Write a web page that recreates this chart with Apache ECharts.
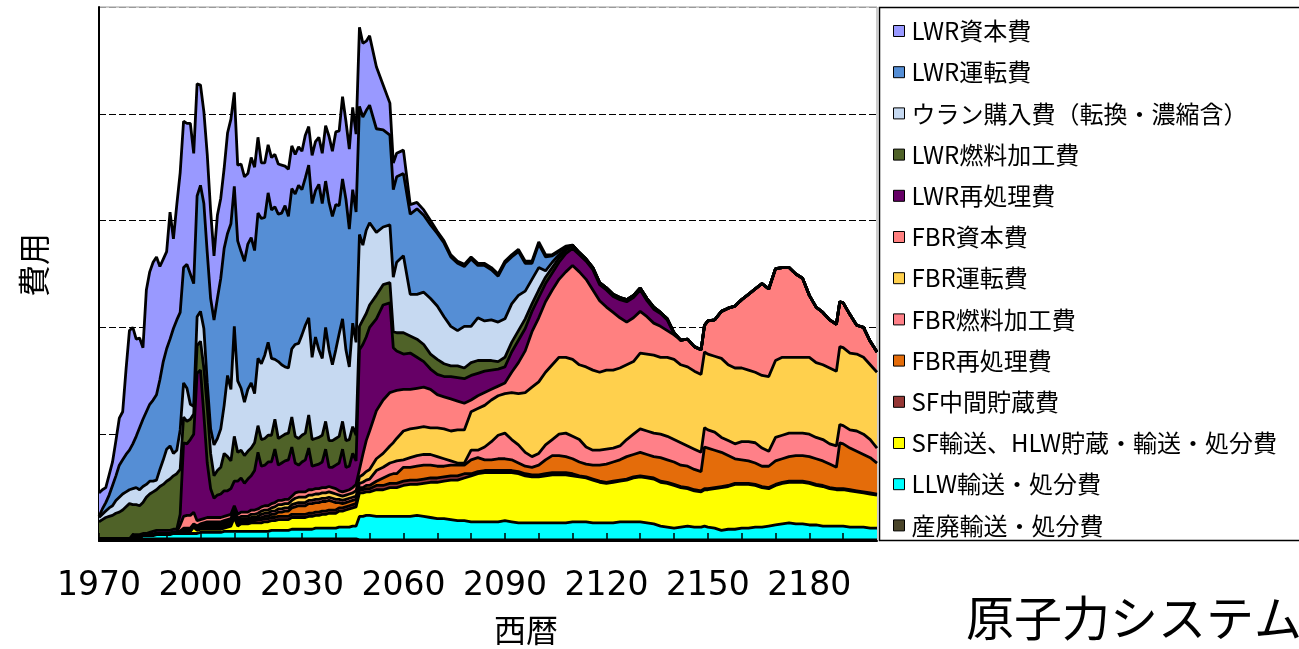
<!DOCTYPE html>
<html>
<head>
<meta charset="utf-8">
<title>原子力システム 費用</title>
<script src="https://cdn.jsdelivr.net/npm/echarts@6/dist/echarts.min.js"></script>
<style>
  html, body { margin: 0; padding: 0; background: #fff; }
  #chart { width: 1299px; height: 649px; }
</style>
</head>
<body>
<div id="chart"></div>
<script>
// 西暦: 2050年までは毎年、その後は2年おき（段差の年 2057, 2149, 2189 を追加）
var years = [
  1970,1971,1972,1973,1974,1975,1976,1977,1978,1979,
  1980,1981,1982,1983,1984,1985,1986,1987,1988,1989,
  1990,1991,1992,1993,1994,1995,1996,1997,1998,1999,
  2000,2001,2002,2003,2004,2005,2006,2007,2008,2009,
  2010,2011,2012,2013,2014,2015,2016,2017,2018,2019,
  2020,2021,2022,2023,2024,2025,2026,2027,2028,2029,
  2030,2031,2032,2033,2034,2035,2036,2037,2038,2039,
  2040,2041,2042,2043,2044,2045,2046,2047,2048,2049,2050,
  2052,2054,2056,2057,2058,2060,2062,2064,2066,2068,
  2070,2072,2074,2076,2078,2080,2082,2084,2086,2088,
  2090,2092,2094,2096,2098,2100,2102,2104,2106,2108,
  2110,2112,2114,2116,2118,2120,2122,2124,2126,2128,
  2130,2132,2134,2136,2138,2140,2142,2144,2146,2148,
  2149,2150,2152,2154,2156,2158,2160,2162,2164,2166,
  2168,2170,2172,2174,2176,2178,2180,2182,2184,2186,
  2188,2189,2190,2192,2194,2196,2198,2200
];

// 各費目の値（積み上げ前）。目盛線1本 = 100
var sanpai = [
  2,2,2,2,2,2,2,2,2,2, 2,2,2,2,2,2,2,2,2,2, 2,2,2,2,2,2,2,2,2,2, 2,2,2,2,2,2,2,2,2,2,
  2,2,2,2,2,2,2,2,2,2, 2,2,2,2,2,2,2,2,2,2, 2,2,2,2,2,2,2,2,2,2, 2,2,2,2,2,2,2,1,1,1,1,
  1,1,1,1,1,1,1,1,1,1, 1,1,1,1,1,1,1,1,1,1, 1,1,1,1,1,1,1,1,1,1, 1,1,1,1,1,1,1,1,1,1,
  1,1,1,1,1,1,1,1,1,1, 1,1,1,1,1,1,1,1,1,1, 1,1,1,1,1,1,1,1,1,1, 1,1,1,1,1,1,1,1
];
var llw = [
  0,0,0,0,0,0,0,0,0,0, 2,2,2,3,3,3,3,4,4,4, 4,4,5,5,5,5,5,5,5,5, 6,6,6,6,6,6,6,7,7,7,
  7,7,7,7,7,7,7,7,7,7, 7,8,8,8,8,8,8,9,9,9, 9,9,9,9,10,10,10,10,10,10, 10,11,11,11,11,12,12,22,22,23,23,
  22,22,22,22,22,22,22,23,22,21, 20,20,19,18,18,17,17,17,17,17, 18,17,16,16,16,16,16,16,16,16,
  17,17,17,16,16,16,16,17,17,17, 17,16,15,13,12,11,12,13,12,12, 13,12,11,9,10,10,11,11,12,12,
  13,14,15,16,15,15,14,14,13,13, 13,13,13,12,12,12,11,11
];
var sfTransport = [
  0,0,0,0,0,0,0,0,0,0, 0,0,0,0,0,1,1,1,1,1, 1,1,1,1,2,2,2,2,6,3, 3,3,3,3,3,3,3,3,4,5,
  13,5,7,7,7,8,8,8,8,9, 9,9,9,10,10,10,10,11,11,11, 11,11,12,12,12,12,13,13,14,14, 14,15,15,16,17,17,18,22,22,22,22,
  25,25,27,27,27,29,30,29,31,33, 34,35,37,38,40,43,45,46,46,46, 45,46,46,44,43,43,44,45,45,45,
  43,42,41,40,38,37,38,38,39,41, 42,42,42,41,41,40,37,35,34,33, 34,35,37,40,40,42,41,41,39,37,
  35,37,38,38,39,39,39,37,37,35, 34,34,34,34,33,32,32,31
];
var sfStorage = [
  0,0,0,0,0,0,0,0,0,0, 0,0,0,0,0,0,0,0,0,0, 0,0,0,0,0,1,1,1,1,1, 2,2,2,2,2,2,2,2,2,2,
  2,2,2,2,2,2,2,3,3,3, 3,3,3,3,3,3,3,3,3,3, 3,3,3,3,3,3,3,3,3,3, 3,3,3,3,3,3,3,3,3,3,3,
  4,4,4,4,4,4,4,4,4,4, 4,4,4,4,4,2,2,2,2,2, 2,2,2,2,2,2,2,2,2,2,
  2,1,1,1,1,1,1,1,1,1, 1,1,1,1,1,1,1,1,1,1, 1,1,1,1,1,1,1,1,1,1,
  1,1,1,1,1,1,1,1,1,1, 1,1,1,1,1,1,1,1
];
var fbrReprocess = [
  0,0,0,0,0,0,0,0,0,0, 0,0,0,0,0,0,0,0,0,0, 0,0,0,0,0,0,0,0,0,1, 1,1,1,1,1,1,1,1,1,1,
  1,1,1,1,1,1,1,1,2,2, 2,3,3,4,4,5,5,6,7,8, 8,8,9,9,9,9,9,9,9,8, 7,5,4,4,4,4,4,2,2,3,3,
  4,7,8,9,9,13,12,13,13,12, 11,10,10,10,8,13,13,10,10,11, 11,10,8,7,7,9,13,16,16,15,
  14,13,12,13,15,17,18,19,21,21, 22,21,20,22,21,21,20,20,19,18, 39,38,35,32,28,23,22,21,20,19,
  20,22,22,23,24,24,24,24,23,22, 20,43,42,39,37,35,33,29
];
var fbrFuel = [
  0,0,0,0,0,0,0,0,0,0, 0,0,0,0,0,0,0,0,0,0, 0,0,0,0,0,1,1,1,1,1, 1,1,2,2,2,2,2,2,2,2,
  2,2,2,2,2,2,2,2,3,3, 3,3,3,3,3,3,3,3,3,3, 3,3,3,3,3,3,3,3,3,3, 3,3,3,3,3,3,3,4,5,5,6,
  10,10,11,11,12,7,9,10,10,10, 9,7,4,2,2,9,7,12,17,22, 24,19,17,13,10,11,14,15,20,22,
  21,21,16,14,14,14,13,13,16,19, 22,22,22,22,22,21,21,19,19,18, 18,17,17,14,14,14,17,18,19,17,
  14,22,22,22,21,21,21,20,20,19, 20,17,17,17,19,19,17,14
];
var fbrOperation = [
  0,0,0,0,0,0,0,0,0,0, 0,0,0,0,0,0,0,0,0,0, 0,0,0,0,0,1,1,1,1,1, 1,2,2,2,2,2,2,2,2,2,
  2,2,2,2,2,3,3,3,3,3, 3,3,4,4,4,4,4,4,5,5, 5,5,5,5,5,5,5,5,5,5, 5,4,4,4,4,4,5,6,7,8,9,
  11,13,16,18,21,27,27,26,26,25, 27,28,28,31,31,36,39,39,39,37, 37,44,48,56,65,67,68,70,72,71,
  72,70,75,75,73,74,73,73,70,68, 71,72,73,72,74,75,73,74,73,73, 71,71,71,74,71,71,69,67,66,68,
  70,72,73,71,71,71,72,70,70,71, 70,73,73,72,72,72,70,71
];
var fbrCapital = [
  0,0,0,0,0,0,0,0,0,0, 0,0,0,0,0,0,0,0,0,0, 0,0,0,0,6,11,12,12,11,5, 4,4,4,4,4,4,4,4,4,4,
  4,4,4,4,4,4,4,4,4,4, 4,4,4,4,4,4,4,4,5,5, 5,5,5,5,5,5,5,5,5,5, 5,4,4,4,4,5,6,7,19,29,36,
  45,50,50,48,45,39,37,37,37,36, 31,30,30,27,25,11,12,12,10,9, 10,19,29,39,52,60,66,70,73,80,
  88,87,82,75,67,59,54,47,40,41, 39,35,30,29,25,23,23,26,23,23, 25,31,34,44,53,58,64,71,78,86,
  82,86,84,84,78,74,58,52,49,45, 44,42,42,36,27,28,22,19
];
var lwrReprocess = [
  0,0,0,0,0,0,0,0,0,0, 2,2,2,2,2,2,3,3,3,3, 3,3,3,3,10,69,67,71,73,138, 140,97,51,27,18,21,22,24,23,24,
  23,31,32,27,31,32,37,53,38,38, 41,39,50,33,35,36,37,46,28,25, 28,30,39,22,22,23,24,36,18,19, 22,26,40,22,22,32,22,112,103,97,97,
  86,89,84,41,37,33,34,29,24,19, 19,19,21,22,23,23,21,20,18,16, 15,19,21,21,19,19,17,16,16,17,
  16,16,17,19,15,16,15,17,19,19, 20,15,13,12,10,1,0,0,0,0, 0,0,0,0,0,0,0,0,0,0,
  0,0,0,0,0,0,0,0,0,0, 0,0,0,0,0,0,0,0
];
var lwrFuel = [
  16,18,20,21,22,24,25,27,30,33, 28,28,27,29,34,36,37,38,41,43, 46,48,50,52,42,24,21,19,19,26, 27,44,52,33,21,23,25,35,32,26,
  42,27,26,26,26,26,26,25,25,25, 25,25,28,25,25,25,25,28,25,25, 25,25,31,25,25,25,25,26,25,25, 25,25,26,25,25,25,24,22,23,22,21,
  22,19,19,15,17,20,16,17,16,14, 14,12,10,11,10,12,12,10,9,7, 9,9,9,9,7,7,6,5,4,3,
  3,2,2,2,2,2,2,2,2,2, 2,2,2,1,1,1,0,0,0,0, 0,0,0,0,0,0,0,0,0,0,
  0,0,0,0,0,0,0,0,0,0, 0,0,0,0,0,0,0,0
];
var uranium = [
  4,5,6,8,9,12,14,15,14,13, 15,16,15,15,12,12,10,9,16,23, 30,31,21,22,37,32,31,14,7,27, 28,37,23,23,29,30,36,45,76,67,
  103,67,58,50,58,61,46,63,71,78, 87,72,56,72,67,63,61,64,86,89, 94,101,91,77,95,82,72,88,85,71, 83,96,96,85,68,97,87,86,70,78,77,
  59,54,54,51,66,72,39,42,49,52, 50,44,37,33,39,34,40,37,38,37, 36,36,33,26,23,21,6,5,3,1,
  0,0,0,0,0,0,0,0,0,0, 0,0,0,0,0,0,0,0,0,0, 0,0,0,0,0,0,0,0,0,0,
  0,0,0,0,0,0,0,0,0,0, 0,0,0,0,0,0,0,0
];
var lwrOperation = [
  1,5,8,12,19,23,30,32,35,37, 42,48,58,63,68,72,76,80,84,92, 94,100,117,122,110,108,116,122,115,113, 118,117,122,122,117,131,141,147,133,155,
  131,131,128,132,136,136,134,136,136,129, 140,139,143,138,142,151,142,150,141,148, 136,138,143,144,137,155,145,137,138,139, 136,120,131,141,129,125,122,120,120,112,110,
  97,91,84,82,80,77,75,80,72,69, 68,69,65,63,56,63,49,52,47,43, 52,44,41,26,15,22,13,6,3,2,
  0,0,0,0,0,0,0,0,0,0, 0,0,0,0,0,0,0,0,0,0, 0,0,0,0,0,0,0,0,0,0,
  0,0,0,0,0,0,0,0,0,0, 0,0,0,0,0,0,0,0
];
var lwrCapital = [
  22,18,14,19,22,33,44,45,80,112, 109,91,84,67,114,124,129,129,106,96, 91,119,84,108,131,137,132,141,122,105, 94,86,92,82,60,78,75,75,94,98,
  88,71,82,79,66,75,78,71,52,51, 45,49,49,47,45,37,44,40,37,36, 36,40,36,45,46,44,47,52,62,61, 68,70,77,73,75,77,73,74,69,65,65,
  58,42,30,25,22,22,9,6,5,4, 2,2,2,2,2,2,2,2,2,2, 2,2,2,2,2,2,2,1,1,1,
  0,0,0,0,0,0,0,0,0,0, 0,0,0,0,0,0,0,0,0,0, 0,0,0,0,0,0,0,0,0,0,
  0,0,0,0,0,0,0,0,0,0, 0,0,0,0,0,0,0,0
];

// 積み上げ順（下から）
var layers = [
  { name: '産廃輸送・処分費', data: sanpai, color: '#4A452A' },
  { name: 'LLW輸送・処分費', data: llw, color: '#00FFFF' },
  { name: 'SF輸送、HLW貯蔵・輸送・処分費', data: sfTransport, color: '#FFFF00' },
  { name: 'SF中間貯蔵費', data: sfStorage, color: '#953735' },
  { name: 'FBR再処理費', data: fbrReprocess, color: '#E46C0A' },
  { name: 'FBR燃料加工費', data: fbrFuel, color: '#FF8088' },
  { name: 'FBR運転費', data: fbrOperation, color: '#FFD04D' },
  { name: 'FBR資本費', data: fbrCapital, color: '#FF8080' },
  { name: 'LWR再処理費', data: lwrReprocess, color: '#660066' },
  { name: 'LWR燃料加工費', data: lwrFuel, color: '#4F6228' },
  { name: 'ウラン購入費（転換・濃縮含）', data: uranium, color: '#C6D9F1' },
  { name: 'LWR運転費', data: lwrOperation, color: '#558ED5' },
  { name: 'LWR資本費', data: lwrCapital, color: '#9999FF' }
];

// 値を先頭の列に置く（積み上げは先頭の数値列にかかるため）
function toRows(values) {
  return values.map(function (v, i) { return [v, years[i]]; });
}

var series = [];
// 塗り（積み上げ面）
layers.forEach(function (layer) {
  series.push({
    name: layer.name,
    type: 'line',
    stack: 'cost',
    data: toRows(layer.data),
    encode: { x: 1, y: 0 },
    symbol: 'none',
    z: 2,
    lineStyle: { width: 0 },
    itemStyle: { color: layer.color },
    areaStyle: { color: layer.color, opacity: 1 },
    emphasis: { disabled: true },
    animation: false
  });
});

// 各層の上端の黒線（累計を表にして非積み上げの線で描く）
var running = years.map(function () { return 0; });
layers.forEach(function (layer) {
  running = running.map(function (s, i) { return s + layer.data[i]; });
  series.push({
    name: layer.name + '（境界）',
    type: 'line',
    data: running.map(function (s, i) { return [years[i], s]; }),
    symbol: 'none',
    z: 20,
    silent: true,
    lineStyle: { color: '#000000', width: 2.8, opacity: 1 },
    itemStyle: { color: '#000000' },
    emphasis: { disabled: true },
    animation: false
  });
});

var legendNames = layers.map(function (l) { return l.name; }).reverse();

var chart = echarts.init(document.getElementById('chart'));
chart.setOption({
  animation: false,
  textStyle: { fontFamily: '"Noto Sans CJK JP", sans-serif', color: '#000' },
  grid: {
    left: 99, right: 422, top: 7, bottom: 108,
    show: true, borderColor: '#9a9a9a', borderWidth: 1
  },
  xAxis: {
    type: 'value',
    min: 1970, max: 2200, interval: 10,
    z: 30,
    axisLine: { lineStyle: { color: '#000', width: 2 } },
    axisTick: { inside: true, length: 8, lineStyle: { color: '#000', width: 1.5 } },
    axisLabel: {
      margin: 29,
      fontSize: 33,
      fontFamily: '"DejaVu Sans", sans-serif',
      color: '#000',
      showMaxLabel: false,
      formatter: function (v) { return (v - 1970) % 30 === 0 ? String(v) : ''; }
    },
    splitLine: { show: false }
  },
  yAxis: {
    type: 'value',
    min: 0, max: 500, interval: 100,
    axisLine: { show: true, lineStyle: { color: '#000', width: 2 } },
    axisTick: { show: false },
    axisLabel: { show: false },
    splitLine: {
      lineStyle: {
        type: [7, 3],
        width: 1,
        color: ['#000', '#000', '#000', '#000', '#000', '#9a9a9a']
      }
    }
  },
  legend: {
    data: legendNames,
    orient: 'vertical',
    left: 893,
    top: 19,
    padding: 0,
    itemWidth: 11,
    itemHeight: 11,
    itemGap: 17.2,
    icon: 'rect',
    selectedMode: false,
    itemStyle: { borderColor: '#000', borderWidth: 1 },
    textStyle: { fontSize: 24, lineHeight: 24, color: '#000', padding: [0, 0, 0, 2] }
  },
  graphic: [
    {
      type: 'rect',
      shape: { x: 879.5, y: 7.5, width: 440, height: 533 },
      style: { fill: 'none', stroke: '#000', lineWidth: 1.5 },
      silent: true
    },
    {
      // 縦軸名（下から上へ読む向き）
      type: 'text',
      x: 34, y: 265,
      rotation: Math.PI / 2,
      style: {
        text: '費用', fontSize: 32, fill: '#000',
        align: 'center', verticalAlign: 'middle',
        fontFamily: '"Noto Sans CJK JP", sans-serif'
      },
      silent: true
    },
    {
      type: 'text',
      left: 494, top: 614,
      style: { text: '西暦', fontSize: 32, fill: '#000', fontFamily: '"Noto Sans CJK JP", sans-serif' },
      silent: true
    },
    {
      type: 'text',
      left: 966, top: 594,
      style: { text: '原子力システム', fontSize: 48, fill: '#000', fontFamily: '"Noto Sans CJK JP", sans-serif' },
      silent: true
    }
  ],
  series: series
});
</script>
</body>
</html>
